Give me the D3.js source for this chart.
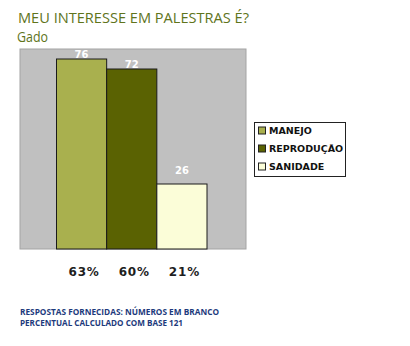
<!DOCTYPE html>
<html><head><meta charset="utf-8">
<script src="https://cdn.jsdelivr.net/npm/d3@7"></script>
<style>body{margin:0;background:#fff}svg{display:block}</style>
</head><body>
<script>
const categories = ["MANEJO", "REPRODUÇÃO", "SANIDADE"];
const values = [76, 72, 26];
const percentLabels = ["63%", "60%", "21%"];
const colors = ["#a9b04e", "#5a6202", "#fbfdd8"];
const title = "MEU INTERESSE EM PALESTRAS É?";
const subtitle = "Gado";
const notes = ["RESPOSTAS FORNECIDAS: NÚMEROS EM BRANCO", "PERCENTUAL CALCULADO COM BASE 121"];

const W = 410, H = 346;
const svg = d3.select("body").append("svg").attr("width", W).attr("height", H);

const plot = {x0: 20, x1: 246, y0: 49, y1: 249};
const x = d3.scaleBand().domain(categories).range([56.5, 207]).padding(0);
const y = d3.scaleLinear().domain([0, 80]).range([plot.y1, plot.y0]);

// titles
svg.append("text").attr("x", 18).attr("y", 22.5).text(title)
  .attr("font-family", "Open Sans").attr("font-weight", 500).attr("font-size", 14.5).attr("fill", "#60741b")
  .attr("textLength", 231).attr("lengthAdjust", "spacingAndGlyphs");
svg.append("text").attr("x", 17).attr("y", 42).text(subtitle)
  .attr("font-family", "Open Sans").attr("font-weight", 500).attr("font-size", 15).attr("fill", "#60741b")
  .attr("textLength", 31).attr("lengthAdjust", "spacingAndGlyphs");

// plot background
svg.append("rect").attr("x", plot.x0).attr("y", plot.y0)
  .attr("width", plot.x1 - plot.x0).attr("height", plot.y1 - plot.y0)
  .attr("fill", "#c0c0c0").attr("stroke", "#a4a4a4").attr("stroke-width", 1);

// bars
svg.selectAll("rect.bar").data(categories).join("rect").attr("class", "bar")
  .attr("x", d => x(d)).attr("y", (d, i) => y(values[i]))
  .attr("width", x.bandwidth()).attr("height", (d, i) => y(0) - y(values[i]))
  .attr("fill", (d, i) => colors[i]).attr("stroke", "#1a1a1a").attr("stroke-width", 1);

// value labels
svg.selectAll("text.val").data(categories).join("text").attr("class", "val")
  .attr("x", d => x(d) + x.bandwidth() / 2)
  .attr("y", (d, i) => y(values[i]) - (values[i] > 50 ? 1.5 : 10))
  .attr("text-anchor", "middle").text((d, i) => values[i])
  .attr("font-family", "DejaVu Sans").attr("font-weight", "bold").attr("font-size", 10)
  .attr("fill", "#ffffff");

// percentage labels
svg.selectAll("text.pct").data(categories).join("text").attr("class", "pct")
  .attr("x", d => x(d) + x.bandwidth() / 2 + 2.5).attr("y", 276)
  .attr("text-anchor", "middle").text((d, i) => percentLabels[i])
  .attr("font-family", "DejaVu Sans").attr("font-weight", "bold").attr("font-size", 12)
  .attr("letter-spacing", 0.8).attr("fill", "#1e1e1e");

// legend
const lg = svg.append("g");
lg.append("rect").attr("x", 254.5).attr("y", 122.5).attr("width", 91).attr("height", 54)
  .attr("fill", "#fff").attr("stroke", "#222").attr("stroke-width", 1);
categories.forEach((c, i) => {
  const cy = 130.5 + i * 18;
  lg.append("rect").attr("x", 258.5).attr("y", cy - 3.5).attr("width", 7).attr("height", 7)
    .attr("fill", colors[i]).attr("stroke", "#222").attr("stroke-width", 1);
  lg.append("text").attr("x", 269).attr("y", cy + 3.5).text(c)
    .attr("font-family", "DejaVu Sans").attr("font-weight", "bold").attr("font-size", 9.5)
    .attr("fill", "#111");
});

// notes
const noteW = [199, 163];
notes.forEach((n, i) => {
  svg.append("text").attr("x", 20).attr("y", 314.5 + i * 11).text(n)
    .attr("font-family", "Open Sans").attr("font-weight", 700).attr("font-size", 8.3)
    .attr("fill", "#1d3a7c")
    .attr("textLength", noteW[i]).attr("lengthAdjust", "spacingAndGlyphs");
});
</script>
</body></html>
